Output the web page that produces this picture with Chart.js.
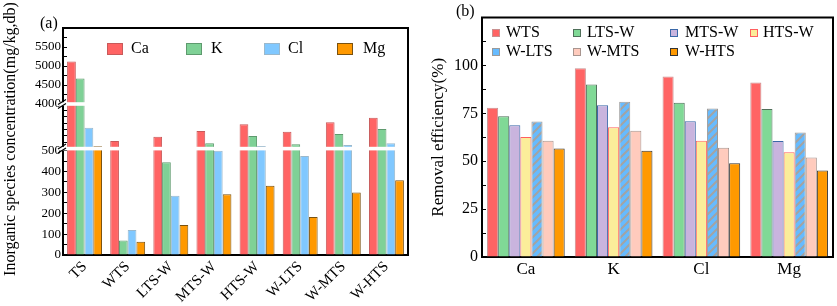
<!DOCTYPE html>
<html>
<head>
<meta charset="utf-8">
<script src="https://cdn.jsdelivr.net/npm/chart.js@4.4.1/dist/chart.umd.min.js"></script>
<style>
  html, body { margin: 0; padding: 0; background: #fff; }
  #wrap { position: relative; width: 837px; height: 306px; }
  canvas { position: absolute; top: 0; }
</style>
</head>
<body>
<div id="wrap">
  <canvas id="conc" width="418" height="306" style="left:0"></canvas>
  <canvas id="removal" width="419" height="306" style="left:418px"></canvas>
</div>
<script>
// (a) inorganic species concentration, mg/kg db
const samples = ['TS', 'WTS', 'LTS-W', 'MTS-W', 'HTS-W', 'W-LTS', 'W-MTS', 'W-HTS'];
const ca = [5120, 815, 987, 1216, 1484, 1188, 1565, 1749];
const k  = [4670, 69, 444, 720, 1015, 682, 1095, 1296];
const cl = [1348, 120, 284, 500, 614, 475, 654, 723];
const mg = [600, 64, 144, 291, 332, 182, 300, 358];

// (b) removal efficiency, %
const elements = ['Ca', 'K', 'Cl', 'Mg'];
const wts  = [77.9, 98.5, 94.2, 91.1];
const ltsW = [73.5, 90.1, 80.5, 77.3];
const mtsW = [68.8, 79.2, 70.9, 60.6];
const htsW = [62.6, 67.8, 60.7, 54.7];
const wLts = [70.7, 81.1, 77.6, 65.0];
const wMts = [60.7, 65.9, 57.1, 51.9];
const wHts = [56.6, 55.5, 49.0, 45.2];

Chart.defaults.font.family = "'Liberation Serif', 'Times New Roman', serif";
Chart.defaults.color = '#000';

const serif = "'Liberation Serif', 'Times New Roman', serif";

function hatch(bg, line) {
  const c = document.createElement('canvas');
  c.width = 8; c.height = 8;
  const g = c.getContext('2d');
  g.fillStyle = bg;
  g.fillRect(0, 0, 8, 8);
  g.strokeStyle = line;
  g.lineWidth = 2;
  g.beginPath();
  g.moveTo(0, 8); g.lineTo(8, 0);
  g.moveTo(-4, 4); g.lineTo(4, -4);
  g.moveTo(4, 12); g.lineTo(12, 4);
  g.stroke();
  return g.createPattern(c, 'repeat');
}

function drawLegend(ctx, items, size) {
  ctx.save();
  ctx.font = size + 'px ' + serif;
  ctx.textBaseline = 'middle';
  items.forEach(it => {
    ctx.fillStyle = it.fill;
    ctx.fillRect(it.x, it.y - it.h / 2, it.w, it.h);
    ctx.strokeStyle = it.stroke;
    ctx.lineWidth = 1;
    ctx.strokeRect(it.x + 0.5, it.y - it.h / 2 + 0.5, it.w - 1, it.h - 1);
    ctx.fillStyle = '#000';
    ctx.fillText(it.text, it.tx, it.y);
  });
  ctx.restore();
}

function frame(chart) {
  const a = chart.chartArea, ctx = chart.ctx;
  ctx.save();
  ctx.strokeStyle = '#000';
  ctx.lineWidth = 2;
  ctx.beginPath();
  ctx.moveTo(a.left - 1, a.top);
  ctx.lineTo(a.right, a.top);
  ctx.lineTo(a.right, a.bottom + 1);
  ctx.stroke();
  ctx.restore();
}

// ---------- panel (a): broken axis as three stacked y scales ----------
const concSeries = [
  { label: 'Ca', values: ca },
  { label: 'K',  values: k },
  { label: 'Cl', values: cl },
  { label: 'Mg', values: mg }
];
const concStyle = {
  Ca: { fill: '#ff6464', edge: '#c85a5a' },
  K:  { fill: '#7fd196', edge: '#5e9a6e' },
  Cl: { fill: '#80c8ff', edge: '#9ab8cc' },
  Mg: { fill: '#ff9900', edge: '#7a5210' }
};
const segments = [
  { id: 'yLow', min: 0,    max: 510,  weight: 106.4, step: 50,  floating: false },
  { id: 'yMid', min: 510,  max: 2300, weight: 44.6,  step: 250, floating: true },
  { id: 'yTop', min: 4000, max: 6000, weight: 76,    step: 250, floating: true }
];

const concSets = [];
segments.forEach(seg => {
  concSeries.forEach(s => {
    concSets.push({
      label: s.label,
      yAxisID: seg.id,
      stack: s.label,
      data: s.values.map(v => v <= seg.min ? null :
        (seg.floating ? [seg.min, Math.min(v, seg.max)] : Math.min(v, seg.max))),
      backgroundColor: concStyle[s.label].fill,
      borderColor: concStyle[s.label].edge,
      borderWidth: 1
    });
  });
});

const concScales = {
  x: {
    offset: true,
    grid: { drawOnChartArea: false, drawTicks: false },
    border: { color: '#000', width: 2 },
    ticks: { font: { size: 15 }, minRotation: 45, maxRotation: 45, autoSkip: false, padding: 3 },
    afterFit: s => { s.height = 51; }
  }
};
segments.forEach(seg => {
  concScales[seg.id] = {
    type: 'linear',
    position: 'left',
    stack: 'conc',
    stackWeight: seg.weight,
    stacked: false,
    min: seg.min,
    max: seg.max,
    grid: { drawOnChartArea: false, tickLength: -4, tickColor: '#000' },
    border: { color: '#000', width: 2 },
    ticks: {
      stepSize: seg.step,
      includeBounds: false,
      autoSkip: false,
      padding: 6,
      font: { size: 13 },
      callback: v => {
        if (seg.id === 'yMid') return '';
        if (seg.id === 'yLow') return v % 100 === 0 ? v : '';
        return (v % 500 === 0 && v < 6000) ? v : '';
      }
    },
    afterFit: s => { s.width = 63; }
  };
});

const breakPlugin = {
  id: 'axisBreak',
  afterDatasetsDraw(chart) {
    const ctx = chart.ctx, a = chart.chartArea;
    const cuts = [chart.scales.yLow.top, chart.scales.yMid.top];
    ctx.save();
    cuts.forEach(y => {
      ctx.fillStyle = '#fff';
      ctx.fillRect(a.left - 4, y - 1.8, a.right - a.left + 2, 3.6);
      ctx.strokeStyle = '#000';
      ctx.lineWidth = 1.2;
      ctx.beginPath();
      [-2, 2].forEach(d => {
        ctx.moveTo(a.left - 5, y + d + 2.5);
        ctx.lineTo(a.left + 3, y + d - 2.5);
      });
      ctx.stroke();
    });
    ctx.restore();
    frame(chart);
  },
  afterDraw(chart) {
    const ctx = chart.ctx;
    drawLegend(ctx, [
      { x: 107, y: 49, w: 16, h: 12, tx: 131, text: 'Ca', fill: concStyle.Ca.fill, stroke: concStyle.Ca.edge },
      { x: 186, y: 49, w: 16, h: 12, tx: 211, text: 'K',  fill: concStyle.K.fill,  stroke: concStyle.K.edge },
      { x: 264, y: 49, w: 16, h: 12, tx: 288, text: 'Cl', fill: concStyle.Cl.fill, stroke: concStyle.Cl.edge },
      { x: 337, y: 49, w: 16, h: 12, tx: 363, text: 'Mg', fill: concStyle.Mg.fill, stroke: concStyle.Mg.edge }
    ], 16);
    ctx.save();
    ctx.fillStyle = '#000';
    ctx.font = '16px ' + serif;
    ctx.textBaseline = 'middle';
    ctx.fillText('(a)', 40, 24);
    ctx.translate(11, 139);
    ctx.rotate(-Math.PI / 2);
    ctx.textAlign = 'center';
    ctx.fillText('Inorganic species concentration(mg/kg,db)', 0, 0);
    ctx.restore();
  }
};

new Chart(document.getElementById('conc'), {
  type: 'bar',
  data: { labels: samples, datasets: concSets },
  options: {
    responsive: false,
    animation: false,
    devicePixelRatio: 1,
    categoryPercentage: 0.81,
    barPercentage: 1,
    layout: { padding: { top: 28, right: 10, left: 0, bottom: 0 } },
    plugins: { legend: { display: false }, tooltip: { enabled: false } },
    scales: concScales
  },
  plugins: [breakPlugin]
});

// ---------- panel (b): removal efficiency ----------
const striped = hatch('#66bbff', '#a3a3a3');
const removalSeries = [
  { label: 'WTS',   values: wts },
  { label: 'LTS-W', values: ltsW },
  { label: 'MTS-W', values: mtsW },
  { label: 'HTS-W', values: htsW },
  { label: 'W-LTS', values: wLts },
  { label: 'W-MTS', values: wMts },
  { label: 'W-HTS', values: wHts }
];
const removalStyle = {
  'WTS':   { fill: '#ff6464', edge: '#c99090' },
  'LTS-W': { fill: '#80d996', edge: '#4f6f5a' },
  'MTS-W': { fill: '#c9b4de', edge: '#3a68a8' },
  'HTS-W': { fill: '#fbed9a', edge: '#ff6060' },
  'W-LTS': { fill: striped,   edge: '#9a9a9a' },
  'W-MTS': { fill: '#ffcbbd', edge: '#a8958f' },
  'W-HTS': { fill: '#ff9900', edge: '#333333' }
};

const legendPlugin = {
  id: 'removalDeco',
  afterDatasetsDraw(chart) { frame(chart); },
  afterDraw(chart) {
    const ctx = chart.ctx;
    const pos = [
      [74, 33, 88], [155, 33, 169], [252, 33, 267], [332, 33, 345],
      [74, 52, 88], [155, 52, 169], [252, 52, 267]
    ];
    drawLegend(ctx, removalSeries.map((s, i) => ({
      x: pos[i][0], y: pos[i][1], w: 8, h: 8, tx: pos[i][2], text: s.label,
      fill: s.label === 'W-LTS' ? '#66bbff' : removalStyle[s.label].fill,
      stroke: removalStyle[s.label].edge
    })), 16);
    ctx.save();
    ctx.fillStyle = '#000';
    ctx.font = '16px ' + serif;
    ctx.textBaseline = 'middle';
    ctx.fillText('(b)', 38, 12);
    ctx.restore();
  }
};

new Chart(document.getElementById('removal'), {
  type: 'bar',
  data: {
    labels: elements,
    datasets: removalSeries.map(s => ({
      label: s.label,
      data: s.values,
      backgroundColor: removalStyle[s.label].fill,
      borderColor: removalStyle[s.label].edge,
      borderWidth: 1
    }))
  },
  options: {
    responsive: false,
    animation: false,
    devicePixelRatio: 1,
    categoryPercentage: 0.885,
    barPercentage: 1,
    layout: { padding: { top: 16, right: 4, left: 0, bottom: 0 } },
    plugins: { legend: { display: false }, tooltip: { enabled: false } },
    scales: {
      x: {
        offset: true,
        grid: { drawOnChartArea: false, offset: false, tickLength: -4, tickColor: '#000' },
        border: { color: '#000', width: 2 },
        ticks: { font: { size: 17 }, maxRotation: 0, padding: 6 },
        afterFit: s => { s.height = 49; }
      },
      y: {
        min: 0,
        max: 125,
        grid: { drawOnChartArea: false, tickLength: -4, tickColor: '#000' },
        border: { color: '#000', width: 2 },
        ticks: {
          stepSize: 12.5,
          autoSkip: false,
          padding: 8,
          font: { size: 16 },
          callback: v => (v % 25 === 0 && v < 125) ? v : ''
        },
        title: {
          display: true,
          text: 'Removal efficiency(%)',
          font: { size: 17 },
          padding: { top: 10, bottom: 0 }
        },
        afterFit: s => { s.width = 64; }
      }
    }
  },
  plugins: [legendPlugin]
});
</script>
</body>
</html>
